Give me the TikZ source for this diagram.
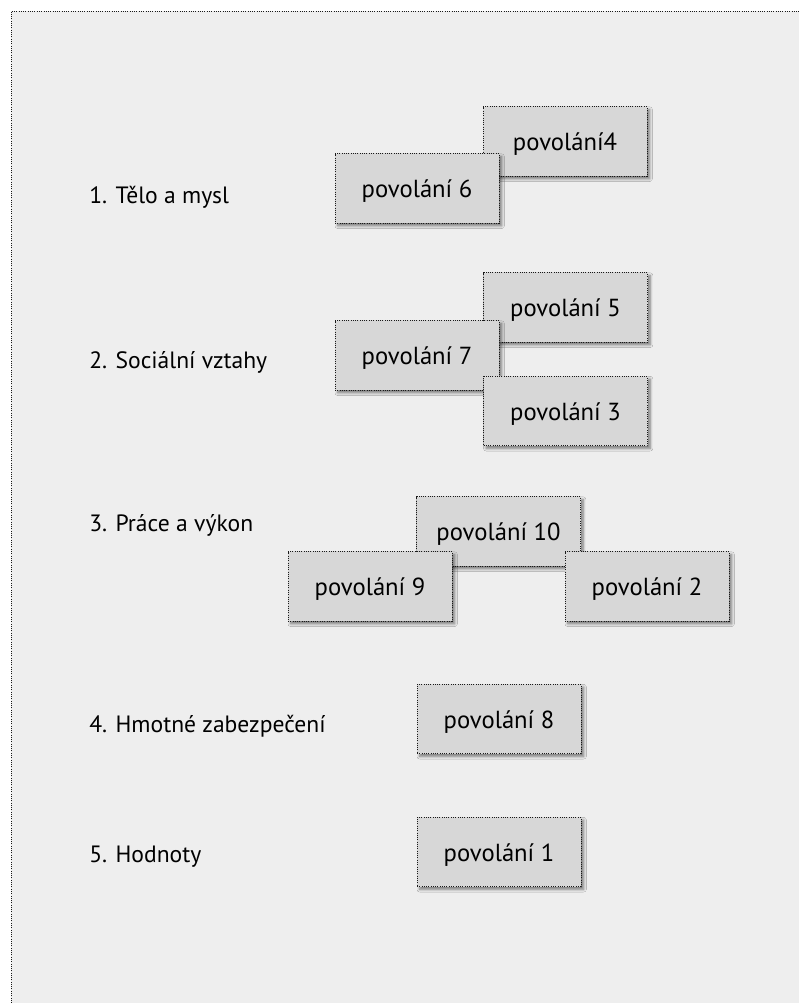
\documentclass[tikz,border=0pt]{standalone}
\usepackage{fontspec}
\setmainfont{PT Sans}
\usetikzlibrary{shadows.blur}
\definecolor{bgcol}{HTML}{EEEEEE}
\definecolor{boxcol}{HTML}{D7D7D7}
\begin{document}
\begin{tikzpicture}[x=0.75pt, y=-0.75pt,
    job/.style = {draw=black!90, densely dotted, line width=0.7pt, fill=boxcol,
                  minimum width=123pt, minimum height=52pt, inner sep=0pt,
                  text height=14.2pt, text depth=0pt,
                  font=\fontsize{18.5}{22}\selectfont,
                  blur shadow={shadow xshift=2pt, shadow yshift=-2pt, shadow blur steps=6, shadow opacity=50}},
    area/.style = {anchor=base west, inner sep=0pt, font=\fontsize{17.7}{21}\selectfont}]
    \useasboundingbox (0,0) rectangle (799,1003);
    \fill[bgcol] (11,11) rectangle (799,1003);
    \draw[densely dotted, line width=0.7pt, black!90] (11,1003) -- (11,11) -- (799,11);
    % oblasti
    \node[area] (t1) at (89,203) {1. Tělo a mysl};
    \node[area] (t2) at (89,368) {2. Sociální vztahy};
    \node[area] (t3) at (89,531) {3. Práce a výkon};
    \node[area] (t4) at (89,732) {4. Hmotné zabezpečení};
    \node[area] (t5) at (89,862) {5. Hodnoty};
    % povolani
    \node[job] (p4) at (565,141.5) {povolání4};
    \node[job] (p6) at (417,188.5) {povolání 6};
    \node[job] (p5) at (565.5,307.5) {povolání 5};
    \node[job] (p7) at (417,355.5) {povolání 7};
    \node[job] (p3) at (565.5,411) {povolání 3};
    \node[job] (p10) at (498.5,531.5) {povolání 10};
    \node[job] (p9) at (370,586.5) {povolání 9};
    \node[job] (p2) at (647,586.5) {povolání 2};
    \node[job] (p8) at (499,719) {povolání 8};
    \node[job] (p1) at (499,852) {povolání 1};
\end{tikzpicture}
\end{document}
